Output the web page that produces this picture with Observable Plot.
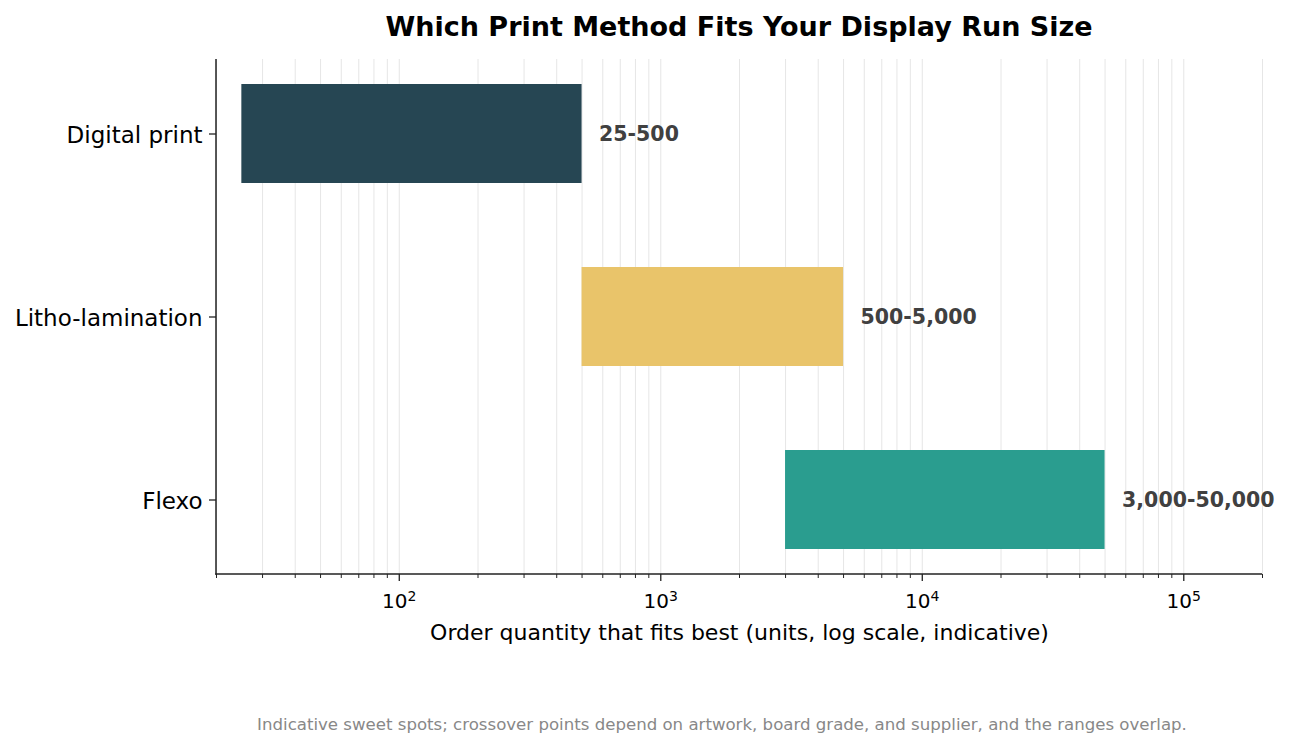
<!DOCTYPE html>
<html>
<head>
<meta charset="utf-8">
<script src="https://cdn.jsdelivr.net/npm/d3@7"></script>
<script src="https://cdn.jsdelivr.net/npm/@observablehq/plot@0.6"></script>
<style>
  html, body { margin: 0; padding: 0; background: #fff; }
  #wrap { position: relative; width: 1290px; height: 749px; font-family: "DejaVu Sans", sans-serif; }
  #title { position: absolute; top: 10px; left: 216px; width: 1046px; text-align: center;
           font-weight: bold; font-size: 27px; line-height: 34px; color: #000; }
  #chart { position: absolute; top: 50px; left: 0; }
  #caption { position: absolute; top: 714px; left: 0; width: 1444px; text-align: center;
             font-size: 16.6px; line-height: 22px; color: #888; }
</style>
</head>
<body>
<div id="wrap">
  <div id="title">Which Print Method Fits Your Display Run Size</div>
  <div id="chart"></div>
  <div id="caption">Indicative sweet spots; crossover points depend on artwork, board grade, and supplier, and the ranges overlap.</div>
</div>
<script>
const methods = ["Digital print", "Litho-lamination", "Flexo"];
const lowQty = [25, 500, 3000];
const highQty = [500, 5000, 50000];
const rangeLabels = ["25-500", "500-5,000", "3,000-50,000"];
const barColors = ["#264653", "#E9C46A", "#2A9D8F"];
const majorTicks = [100, 1000, 10000, 100000];
const xDomain = [20, 200000];
const xLabel = "Order quantity that fits best (units, log scale, indicative)";

const data = methods.map((m, i) => ({method: m, lo: lowQty[i], hi: highQty[i], label: rangeLabels[i], color: barColors[i]}));
const allTicks = d3.scaleLog().domain(xDomain).ticks();
const minorTicks = allTicks.filter(t => !majorTicks.includes(t));

const spines = (index, scales, values, dims) => {
  const g = d3.create("svg:g");
  const x0 = dims.marginLeft, x1 = dims.width - dims.marginRight;
  const y0 = dims.marginTop, y1 = dims.height - dims.marginBottom;
  g.append("line").attr("x1", x0).attr("x2", x0).attr("y1", y0).attr("y2", y1 + 0.75)
    .attr("stroke", "#222").attr("stroke-width", 1.5);
  g.append("line").attr("x1", x0 - 0.75).attr("x2", x1).attr("y1", y1).attr("y2", y1)
    .attr("stroke", "#222").attr("stroke-width", 1.5);
  return g.node();
};

const plot = Plot.plot({
  width: 1290,
  height: 610,
  marginTop: 9,
  marginBottom: 86,
  marginLeft: 216,
  marginRight: 28,
  style: {fontFamily: "DejaVu Sans, sans-serif", overflow: "visible"},
  x: {type: "log", domain: xDomain},
  y: {domain: methods, paddingInner: 0.46, paddingOuter: 0.1333},
  color: {type: "identity"},
  marks: [
    Plot.gridX(allTicks, {stroke: "#e6e6e6", strokeOpacity: 1, strokeWidth: 1}),
    Plot.barX(data, {x1: "lo", x2: "hi", y: "method", fill: "color"}),
    Plot.text(data, {x: "hi", y: "method", text: "label", textAnchor: "start", dx: 17,
      fontWeight: "bold", fontSize: 20.5, fill: "#404040"}),
    Plot.axisX(minorTicks, {tickSize: 4, tickFormat: () => "", stroke: "#222", strokeWidth: 1}),
    Plot.axisX(majorTicks, {tickSize: 7, tickPadding: 12, stroke: "#222", strokeWidth: 1.3,
      fontSize: 20, fill: "#000", tickFormat: d => String(d), label: null}),
    Plot.axisY({tickSize: 7, tickFormat: () => "", stroke: "#222", strokeWidth: 1.3, label: null}),
    Plot.axisY({tickSize: 0, tickPadding: 14, dy: 2, fontSize: 23, fill: "#000", label: null}),
    Plot.text([xLabel], {frameAnchor: "bottom", dy: 65, fontSize: 22, fill: "#000"}),
    spines
  ]
});
document.getElementById("chart").appendChild(plot);

// superscript exponents on the major x tick labels
d3.select(plot).selectAll('g[aria-label="x-axis tick label"] text').each(function() {
  const t = d3.select(this);
  const v = +t.text();
  if (!v) return;
  const e = Math.round(Math.log10(v));
  t.text("10");
  t.append("tspan").attr("dy", "-0.45em").attr("font-size", "0.7em").text(String(e));
});
</script>
</body>
</html>
